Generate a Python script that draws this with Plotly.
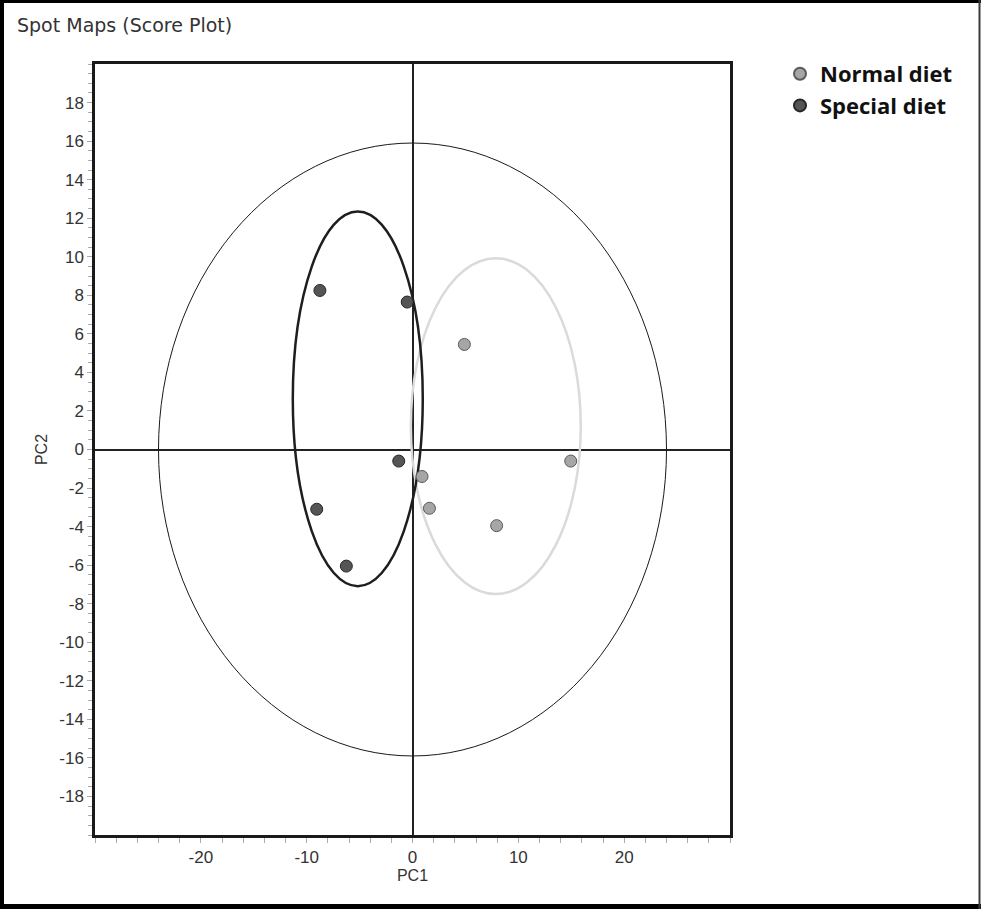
import plotly.graph_objects as go

# PCA scores for each group
normal_pc1 = [4.9, 14.95, 0.9, 1.6, 7.95]
normal_pc2 = [5.45, -0.6, -1.4, -3.05, -3.95]
special_pc1 = [-8.75, -0.5, -1.3, -9.05, -6.25]
special_pc2 = [8.25, 7.65, -0.6, -3.1, -6.05]

# Ellipses: (center PC1, center PC2, semi-axis PC1, semi-axis PC2)
hotelling_ellipse = (0.0, 0.0, 24.0, 15.9)
special_ellipse = (-5.17, 2.63, 6.14, 9.72)
normal_ellipse = (7.87, 1.21, 8.03, 8.71)

x_ticks = [-20, -10, 0, 10, 20]
y_ticks = list(range(-18, 19, 2))

tick_font = dict(family="Liberation Sans, Arial", size=17, color="#333333")
axis_title_font = dict(family="Liberation Sans, Arial", size=16, color="#333333")

fig = go.Figure()

fig.add_trace(go.Scatter(
    x=normal_pc1, y=normal_pc2, mode="markers", name="Normal diet",
    marker=dict(size=12, color="#a6a6a6", line=dict(color="#5a5a5a", width=1)),
))
fig.add_trace(go.Scatter(
    x=special_pc1, y=special_pc2, mode="markers", name="Special diet",
    marker=dict(size=12, color="#555555", line=dict(color="#262626", width=1)),
))


def ellipse_shape(params, color, width):
    cx, cy, ax, ay = params
    return dict(type="circle", xref="x", yref="y",
                x0=cx - ax, x1=cx + ax, y0=cy - ay, y1=cy + ay,
                line=dict(color=color, width=width), layer="between")


shapes = [
    ellipse_shape(hotelling_ellipse, "#1a1a1a", 1),
    ellipse_shape(normal_ellipse, "#dadada", 2.5),
    ellipse_shape(special_ellipse, "#1e1e1e", 2.5),
]

# outer frame around the whole figure (paper coords extend past the plot area)
pw, ph = 635.0, 771.0
ml, mb = 95.0, 74.0


def px_x(p):
    return (p - ml) / pw


def px_y(p):
    return (909 - mb - p) / ph


shapes += [
    dict(type="line", xref="paper", yref="paper", x0=px_x(0), x1=px_x(981),
         y0=px_y(1.5), y1=px_y(1.5), line=dict(color="#000000", width=3)),
    dict(type="line", xref="paper", yref="paper", x0=px_x(0), x1=px_x(981),
         y0=px_y(906.5), y1=px_y(906.5), line=dict(color="#000000", width=5)),
    dict(type="line", xref="paper", yref="paper", x0=px_x(2), x1=px_x(2),
         y0=px_y(0), y1=px_y(909), line=dict(color="#000000", width=4)),
    dict(type="line", xref="paper", yref="paper", x0=px_x(979.5), x1=px_x(979.5),
         y0=px_y(0), y1=px_y(909), line=dict(color="#3a3a3a", width=2)),
]

fig.update_layout(
    width=981, height=909,
    margin=dict(l=95, r=251, t=64, b=74),
    paper_bgcolor="white", plot_bgcolor="white",
    title=dict(text="Spot Maps (Score Plot)", xref="container", yref="container",
               x=17 / 981, xanchor="left", y=1 - 25 / 909, yanchor="middle",
               font=dict(family="DejaVu Sans, Verdana", size=19, color="#333333")),
    legend=dict(x=px_x(780), y=px_y(53), xanchor="left", yanchor="top",
                font=dict(family="Open Sans, Lato", size=22, color="#111111", weight="bold"),
                bgcolor="rgba(0,0,0,0)", tracegroupgap=0, itemsizing="constant"),
    shapes=shapes,
    showlegend=True,
)

fig.update_xaxes(
    range=[-30, 30], tickvals=x_ticks, ticktext=[str(v) for v in x_ticks],
    ticks="outside", ticklen=5, tickcolor="#aaaaaa", tickfont=tick_font,
    minor=dict(dtick=2, tick0=0, ticks="outside", ticklen=5, tickcolor="#aaaaaa", showgrid=False),
    showgrid=False, zeroline=True, zerolinecolor="#222222", zerolinewidth=1.5,
    showline=True, linecolor="#1a1a1a", linewidth=2.5, mirror=True,
    title=dict(text="PC1", font=axis_title_font, standoff=0),
)
fig.update_yaxes(
    range=[-20, 20], tickvals=y_ticks, ticktext=[str(v) for v in y_ticks],
    ticks="outside", ticklen=5, tickcolor="#aaaaaa", tickfont=tick_font,
    minor=dict(dtick=0.5, tick0=0, ticks="outside", ticklen=4, tickcolor="#aaaaaa", showgrid=False),
    showgrid=False, zeroline=True, zerolinecolor="#222222", zerolinewidth=1.5,
    showline=True, linecolor="#1a1a1a", linewidth=2.5, mirror=True,
    title=dict(text="PC2", font=axis_title_font, standoff=8),
)

fig.write_html("out.html")
